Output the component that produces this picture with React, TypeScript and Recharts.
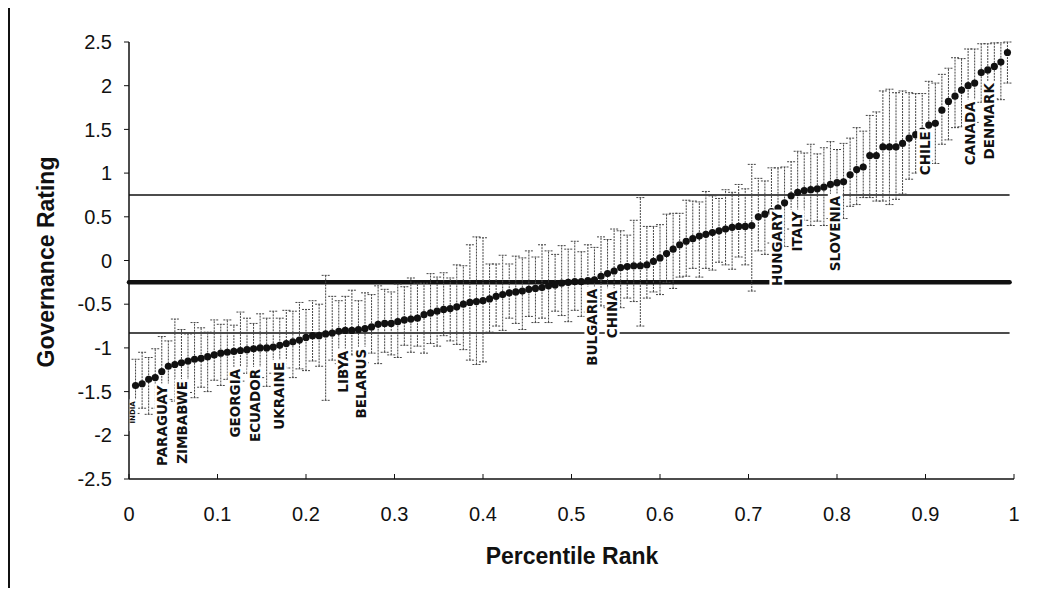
import React from "react";
import {
  ErrorBar,
  ReferenceLine,
  Scatter,
  ScatterChart,
  XAxis,
  YAxis,
} from "recharts";

// Governance rating per country, sorted from lowest to highest.
const ratings = [
  -1.43, -1.41, -1.36, -1.34, -1.27, -1.21, -1.19, -1.17, -1.15, -1.13,
  -1.12, -1.1, -1.08, -1.06, -1.05, -1.04, -1.03, -1.02, -1.01, -1.0,
  -1.0, -0.99, -0.97, -0.95, -0.93, -0.91, -0.88, -0.86, -0.86, -0.84,
  -0.83, -0.81, -0.8, -0.8, -0.79, -0.78, -0.76, -0.73, -0.72, -0.72,
  -0.7, -0.68, -0.67, -0.66, -0.62, -0.6, -0.58, -0.56, -0.55, -0.53,
  -0.5, -0.48, -0.47, -0.46, -0.44, -0.41, -0.39, -0.37, -0.36, -0.35,
  -0.33, -0.32, -0.31, -0.29, -0.28, -0.26, -0.25, -0.24, -0.24, -0.23,
  -0.22, -0.18, -0.15, -0.12, -0.08, -0.07, -0.06, -0.06, -0.05, -0.01,
  0.03, 0.08, 0.13, 0.18, 0.22, 0.25, 0.28, 0.3, 0.32, 0.34,
  0.36, 0.38, 0.39, 0.39, 0.4, 0.5, 0.53, 0.56, 0.6, 0.66,
  0.74, 0.78, 0.8, 0.81, 0.82, 0.84, 0.87, 0.89, 0.9, 0.98,
  1.04, 1.07, 1.2, 1.2, 1.3, 1.3, 1.3, 1.34, 1.4, 1.44,
  1.48, 1.55, 1.57, 1.72, 1.82, 1.88, 1.95, 2.0, 2.03, 2.15,
  2.18, 2.22, 2.27, 2.38,
];

// Distance from the rating down to the lower bound of the interval.
const errLow = [
  0.32, 0.28, 0.4, 0.35, 0.45, 0.38, 0.42, 0.3, 0.36, 0.44,
  0.33, 0.4, 0.29, 0.37, 0.31, 0.42, 0.35, 0.27, 0.39, 0.34,
  0.44, 0.3, 0.36, 0.28, 0.41, 0.33, 0.38, 0.29, 0.35, 0.76,
  0.31, 0.37, 0.42, 0.28, 0.34, 0.39, 0.3, 0.45, 0.33, 0.36,
  0.41, 0.29, 0.38, 0.32, 0.44, 0.35, 0.4, 0.3, 0.37, 0.43,
  0.52, 0.66, 0.72, 0.7, 0.38, 0.34, 0.41, 0.29, 0.36, 0.44,
  0.31, 0.39, 0.35, 0.42, 0.3, 0.37, 0.45, 0.33, 0.4, 0.36,
  0.43, 0.34, 0.39, 0.31, 0.46, 0.36, 0.41, 0.69, 0.38, 0.35,
  0.42, 0.33, 0.45, 0.37, 0.4, 0.34, 0.47, 0.39, 0.43, 0.36,
  0.41, 0.48, 0.35, 0.44, 0.75, 0.39, 0.46, 0.36, 0.42, 0.5,
  0.38, 0.45, 0.34, 0.41, 0.37, 0.44, 0.39, 0.33, 0.42, 0.36,
  0.4, 0.35, 0.48, 0.52, 0.62, 0.66, 0.6, 0.58, 0.47, 0.44,
  0.5, 0.41, 0.46, 0.39, 0.44, 0.36, 0.42, 0.38, 0.45, 0.34,
  0.4, 0.37, 0.43, 0.35,
];

// Distance from the rating up to the upper bound of the interval.
const errHigh = [
  0.3, 0.36, 0.25, 0.33, 0.4, 0.29, 0.52, 0.38, 0.31, 0.42,
  0.35, 0.28, 0.4, 0.33, 0.37, 0.3, 0.44, 0.36, 0.29, 0.39,
  0.34, 0.41, 0.31, 0.38, 0.35, 0.43, 0.32, 0.4, 0.36, 0.67,
  0.42, 0.35, 0.39, 0.46, 0.33, 0.41, 0.37, 0.44, 0.39, 0.36,
  0.43, 0.38, 0.47, 0.4, 0.36, 0.45, 0.39, 0.42, 0.35, 0.48,
  0.44, 0.66, 0.74, 0.72, 0.4, 0.37, 0.45, 0.33, 0.41, 0.38,
  0.44, 0.36, 0.49, 0.4, 0.35, 0.43, 0.38, 0.46, 0.34, 0.41,
  0.37, 0.45, 0.39, 0.48, 0.42, 0.36, 0.52, 0.78, 0.44, 0.4,
  0.38, 0.45, 0.41, 0.36, 0.47, 0.43, 0.39, 0.49, 0.42, 0.37,
  0.45, 0.4, 0.48, 0.43, 0.7, 0.44, 0.38, 0.5, 0.46, 0.41,
  0.39, 0.47, 0.43, 0.52, 0.4, 0.45, 0.49, 0.38, 0.44, 0.42,
  0.48, 0.41, 0.46, 0.5, 0.64, 0.66, 0.62, 0.6, 0.52, 0.47,
  0.43, 0.5, 0.46, 0.41, 0.38, 0.44, 0.36, 0.42, 0.39, 0.33,
  0.3, 0.27, 0.22, 0.12,
];

// Highlighted countries: name, percentile rank, rating at the top of the tag.
const tagNames = [
  "INDIA", "PARAGUAY", "ZIMBABWE", "GEORGIA", "ECUADOR", "UKRAINE",
  "LIBYA", "BELARUS", "BULGARIA", "CHINA", "HUNGARY", "ITALY",
  "SLOVENIA", "CHILE", "CANADA", "DENMARK",
];
const tagRank = [
  0.005, 0.037, 0.06, 0.12, 0.142, 0.17, 0.242, 0.262, 0.523, 0.546,
  0.732, 0.755, 0.798, 0.899, 0.95, 0.972,
];
const tagRating = [
  -1.61, -1.43, -1.38, -1.24, -1.24, -1.16, -1.03, -1.01, -0.32, -0.34,
  0.56, 0.56, 0.74, 1.48, 1.82, 2.03,
];

// Reference levels drawn across the plot.
const upperLevel = 0.75;
const middleLevel = -0.25;
const lowerLevel = -0.83;

const xTicks = [0, 0.1, 0.2, 0.3, 0.4, 0.5, 0.6, 0.7, 0.8, 0.9, 1];
const yTicks = [-2.5, -2, -1.5, -1, -0.5, 0, 0.5, 1, 1.5, 2, 2.5];

const FONT = '"Liberation Sans", Arial, sans-serif';
const TAG_FONT = '"DejaVu Sans", "Liberation Sans", sans-serif';
const INK = "#111";

const points = ratings.map((rating, i) => ({
  rank: (i + 1) / (ratings.length + 1),
  rating,
  err: [errLow[i], errHigh[i]],
}));

const tags = tagNames.map((name, i) => ({
  name,
  rank: tagRank[i],
  rating: tagRating[i],
}));

function Dot(props: any): React.JSX.Element {
  return <circle cx={props.cx} cy={props.cy} r={3.6} fill={INK} />;
}

function CountryTag(props: any): React.JSX.Element {
  const { cx, cy, payload } = props;
  const fs = payload.name === "INDIA" ? 7 : 13.5;
  const len = payload.name.length * fs * 0.74 + 4;
  return (
    <g transform={`translate(${cx},${cy}) rotate(-90)`}>
      <rect x={-len} y={-fs * 0.55} width={len + 2} height={fs * 1.1} fill="#fff" />
      <text
        x={0}
        y={0}
        textAnchor="end"
        dominantBaseline="central"
        fontFamily={TAG_FONT}
        fontSize={fs}
        fontWeight={700}
        fill={INK}
      >
        {payload.name}
      </text>
    </g>
  );
}

export default function App(): React.JSX.Element {
  return (
    <div
      style={{
        position: "relative",
        width: 1033,
        height: 580,
        fontFamily: FONT,
      }}
    >
      {/* frame edges of the scanned figure */}
      <div
        style={{
          position: "absolute",
          left: 0,
          top: -3,
          width: 1033,
          height: 2,
          background: INK,
        }}
      />
      <div
        style={{
          position: "absolute",
          left: 0,
          top: -3,
          width: 2,
          height: 590,
          background: INK,
        }}
      />
      <div style={{ position: "absolute", left: 2, top: -1 }}>
        <ScatterChart
          width={1031}
          height={588}
          margin={{ top: 35, right: 27, left: 49, bottom: 76 }}
        >
          <XAxis
            type="number"
            dataKey="rank"
            domain={[0, 1]}
            ticks={xTicks}
            allowDataOverflow
            height={40}
            tickSize={-5}
            tickMargin={33}
            axisLine={{ stroke: INK, strokeWidth: 1.5 }}
            tickLine={{ stroke: INK }}
            tick={{ fill: INK, fontSize: 20, fontFamily: FONT }}
          />
          <YAxis
            type="number"
            dataKey="rating"
            domain={[-2.5, 2.5]}
            ticks={yTicks}
            allowDataOverflow
            width={70}
            tickSize={5}
            tickMargin={12}
            axisLine={{ stroke: INK, strokeWidth: 1.5 }}
            tickLine={{ stroke: INK }}
            tick={{ fill: INK, fontSize: 20, fontFamily: FONT }}
          />
          <ReferenceLine
            segment={[
              { x: 0, y: upperLevel },
              { x: 0.995, y: upperLevel },
            ]}
            stroke={INK}
            strokeWidth={1.5}
          />
          <ReferenceLine
            segment={[
              { x: 0, y: middleLevel },
              { x: 0.995, y: middleLevel },
            ]}
            stroke={INK}
            strokeWidth={4.5}
            strokeLinecap="round"
          />
          <ReferenceLine
            segment={[
              { x: 0, y: lowerLevel },
              { x: 0.995, y: lowerLevel },
            ]}
            stroke={INK}
            strokeWidth={1.5}
          />
          <Scatter data={points} shape={Dot} isAnimationActive={false}>
            <ErrorBar
              dataKey="err"
              direction="y"
              width={4}
              stroke="#444"
              strokeWidth={1}
              strokeDasharray="2 1"
              isAnimationActive={false}
            />
          </Scatter>
          <Scatter data={tags} shape={CountryTag} isAnimationActive={false} />
        </ScatterChart>
        <div
          style={{
            position: "absolute",
            left: 36,
            top: 255,
            transform: "translate(-50%, -50%) rotate(-90deg)",
            fontSize: 23,
            fontWeight: 700,
            whiteSpace: "nowrap",
            color: INK,
          }}
        >
          Governance Rating
        </div>
        <div
          style={{
            position: "absolute",
            left: 562,
            top: 536,
            transform: "translateX(-50%)",
            fontSize: 23,
            fontWeight: 700,
            whiteSpace: "nowrap",
            color: INK,
          }}
        >
          Percentile Rank
        </div>
      </div>
    </div>
  );
}
